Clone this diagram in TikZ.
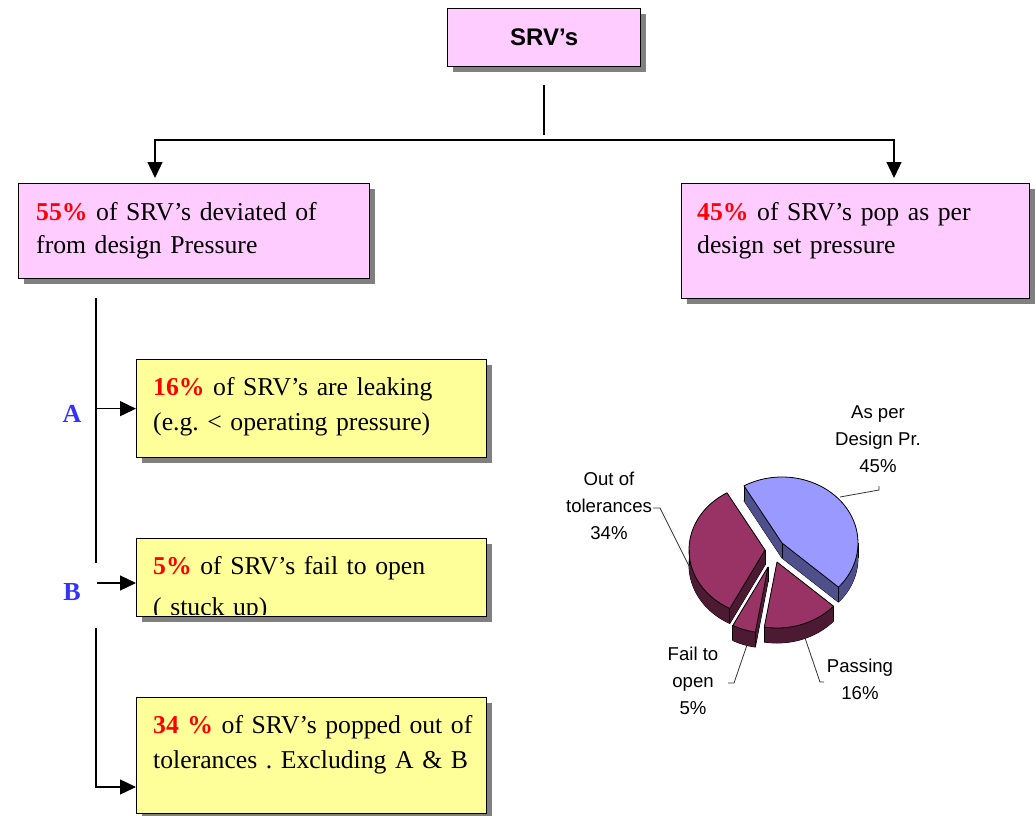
\documentclass[tikz,border=0pt]{standalone}
\usepackage{fontspec}
\setmainfont{Liberation Serif}
\newfontfamily\arial{Liberation Sans}
\usetikzlibrary{arrows.meta,shadows}
\frenchspacing
\definecolor{pinkfill}{HTML}{FFCCFF}
\definecolor{yellowfill}{HTML}{FFFF99}
\definecolor{shadowgray}{HTML}{808080}
\definecolor{bluetop}{HTML}{9999FF}
\definecolor{blueside}{HTML}{4F4F8C}
\definecolor{redtop}{HTML}{993366}
\definecolor{redside}{HTML}{4D1A33}
\definecolor{letterblue}{HTML}{3333FF}
\def\rx{76}\def\ry{66}\def\dep{15}
% #1 cx, #2 cy, #3 start angle, #4 end angle, #5 top colour, #6 side colour
\newcommand\pieslice[6]{%
  \path[fill=#6,draw=black,line width=0.8pt,line join=round]
    (#1,#2+\dep) -- plot[domain=#3:#4,samples=60] ({#1+\rx*cos(\x)},{#2+\dep-\ry*sin(\x)}) -- cycle;
  \fill[#6] (#1,#2) -- ({#1+\rx*cos(#3)},{#2-\ry*sin(#3)}) -- ({#1+\rx*cos(#3)},{#2+\dep-\ry*sin(#3)}) -- (#1,#2+\dep) -- cycle;
  \fill[#6] (#1,#2) -- ({#1+\rx*cos(#4)},{#2-\ry*sin(#4)}) -- ({#1+\rx*cos(#4)},{#2+\dep-\ry*sin(#4)}) -- (#1,#2+\dep) -- cycle;
  \fill[#6] plot[domain=#3:#4,samples=60] ({#1+\rx*cos(\x)},{#2-\ry*sin(\x)}) -- plot[domain=#4:#3,samples=60] ({#1+\rx*cos(\x)},{#2+\dep-\ry*sin(\x)}) -- cycle;
  \draw[line width=0.8pt] (#1,#2) -- ++(0,\dep);
  \draw[line width=0.8pt] ({#1+\rx*cos(#3)},{#2-\ry*sin(#3)}) -- ++(0,\dep);
  \draw[line width=0.8pt] ({#1+\rx*cos(#4)},{#2-\ry*sin(#4)}) -- ++(0,\dep);
  \path[fill=#5,draw=black,line width=0.8pt,line join=round]
    (#1,#2) -- plot[domain=#3:#4,samples=60] ({#1+\rx*cos(\x)},{#2-\ry*sin(\x)}) -- cycle;
}
\begin{document}
\begin{tikzpicture}[x=1pt,y=-1pt,
  box/.style={draw=black, line width=1.3pt, inner sep=0pt, anchor=north west,
    general shadow={fill=shadowgray, shadow xshift=5pt, shadow yshift=-5pt}},
  pinkbox/.style={box, fill=pinkfill},
  yellowbox/.style={box, fill=yellowfill},
  conn/.style={line width=1.3pt},
  arr/.style={line width=1.3pt, -{Triangle[length=16pt,width=15pt]}},
  boxtext/.style={anchor=base west, inner sep=0pt, align=left, text width=330pt},
  letter/.style={text=letterblue, font=\fontsize{26}{30}\selectfont\bfseries},
  lbl/.style={font=\arial\fontsize{18.6}{27}\selectfont, align=center, inner sep=0pt, anchor=north},
  lead/.style={line width=0.8pt, draw=black!80}
]
\useasboundingbox (0,0) rectangle (1036,816);
\fill[white] (0,0) rectangle (1036,816);

% boxes
\node[pinkbox, minimum width=193pt, minimum height=58pt, font=\arial\fontsize{24}{28}\selectfont\bfseries] (srv) at (447,8) {SRV’s};
\node[pinkbox, minimum width=351pt, minimum height=95pt] (pL) at (18,183) {};
\node[pinkbox, minimum width=348pt, minimum height=115pt] (pR) at (681,183) {};
\node[yellowbox, minimum width=350pt, minimum height=98pt] (y1) at (136,359) {};
\node[yellowbox, minimum width=350pt, minimum height=78pt] (y2) at (136,538) {};
\node[yellowbox, minimum width=350pt, minimum height=116pt] (y3) at (136,697) {};

% box texts
\node[boxtext, font=\fontsize{25.7}{33}\selectfont] (tL) at (36,220)
  {\textcolor{red}{\bfseries 55\%} of SRV’s deviated of\\from design Pressure};
\node[boxtext, font=\fontsize{25.7}{33}\selectfont] (tR) at (697,220)
  {\textcolor{red}{\bfseries 45\%} of SRV’s pop as per\\design set pressure};
\node[boxtext, font=\fontsize{25.7}{35}\selectfont] (t1) at (153,395)
  {\textcolor{red}{\bfseries 16\%} of SRV’s are leaking\\(e.g. < operating pressure)};
\begin{scope}
  \clip (136,538) rectangle (486,614);
  \node[boxtext, font=\fontsize{25.7}{41}\selectfont] (t2) at (153,574)
    {\textcolor{red}{\bfseries 5\%} of SRV’s fail to open\\( stuck up)};
\end{scope}
\node[boxtext, font=\fontsize{25.7}{35}\selectfont] (t3) at (153,733)
  {\textcolor{red}{\bfseries 34 \%} of SRV’s popped out of\\tolerances . Excluding A \& B};

% letters
\node[letter] (lA) at (72,414) {A};
\node[letter] (lB) at (72,592) {B};

% top connectors
\coordinate (v0) at (544,85);
\coordinate (v1) at (544,135);
\coordinate (hL) at (155,140);
\coordinate (hR) at (894,140);
\draw[conn] (v0) -- (v1);
\draw[arr, shorten >=5pt] (hR) -- (hL) -- (hL |- pL.north);
\draw[arr, shorten >=5pt] (hL) -- (hR) -- (hR |- pR.north);

% left connectors
\coordinate (a0) at (96,298);
\coordinate (a1) at (96,563);
\draw[conn] (a0) -- (a1);
\draw[arr] (a0 |- y1.west) -- (y1.west);
\coordinate (b0) at (97,583);
\draw[arr] (b0) -- (b0 -| y2.west);
\coordinate (c0) at (96,628);
\coordinate (c1) at (96,787);
\draw[arr] (c0) -- (c1) -- (c1 -| y3.west);

% pie chart
\pieslice{782}{543}{-42}{120}{bluetop}{blueside}
\draw[line width=0.8pt] (858,543) -- ++(0,\dep);
\pieslice{765}{550}{120}{242.4}{redtop}{redside}
\draw[line width=0.8pt] (689,550) -- ++(0,\dep);
\pieslice{777}{562}{260.4}{318}{redtop}{redside}
\pieslice{768}{567}{242.4}{260.4}{redtop}{redside}

% pie labels
\node[lbl] (lAs) at (878,405) {As per\\Design Pr.\\45\%};
\node[lbl] (lOut) at (609,472) {Out of\\tolerances\\34\%};
\node[lbl] (lFail) at (693,647) {Fail to\\open\\5\%};
\node[lbl] (lPass) at (860,659) {Passing\\16\%};

\draw[lead] (879,486) -- (879,490) -- (840,497);
\draw[lead] (653,508) -- (660,508) -- (690,568);
\draw[lead] (728,683) -- (734,683) -- (747,645);
\draw[lead] (805,638) -- (820,682) -- (824,682);
\end{tikzpicture}
\end{document}
